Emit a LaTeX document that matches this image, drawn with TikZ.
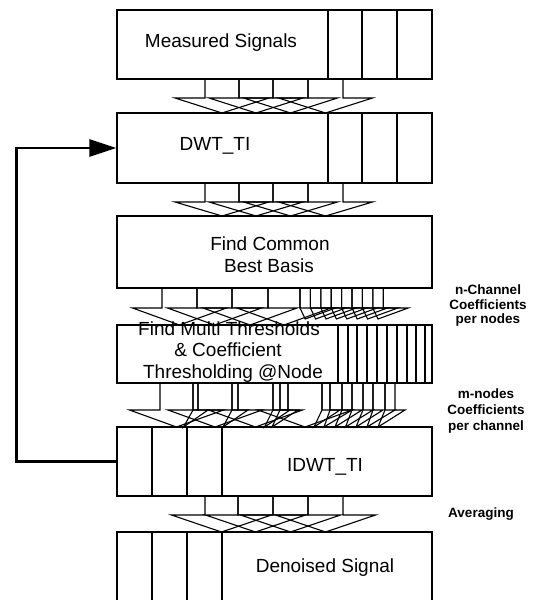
\documentclass[tikz,border=0pt]{standalone}
\usepackage{fontspec}
\setmainfont{Liberation Sans}
\usetikzlibrary{arrows.meta}
\tikzset{
 box/.style={draw, line width=1.2pt, inner sep=0pt, minimum width=315pt},
 arr/.style={line width=1.1pt, line join=miter},
 div/.style={line width=1.1pt},
 txt/.style={inner sep=0pt, anchor=base, font=\fontsize{19}{21.5}\selectfont},
 side/.style={inner sep=0pt, anchor=base, font=\bfseries\fontsize{13.5}{13.5}\selectfont},
 fb/.style={line width=2.6pt, -{Triangle[length=27pt,width=17pt]}},
}
% block arrow: xl, xr, ytop, ybase, ytip, half width of head
\newcommand{\blk}[6]{\draw[arr] (#1,#3) -- (#1,#4) -- ({(#1+#2)/2-#6},#4) -- ({(#1+#2)/2},#5) -- ({(#1+#2)/2+#6},#4) -- (#2,#4) -- (#2,#3);}
% narrow skewed arrow: xl, xr, ytop, ybase, ytip, tip shift, right wing
\newcommand{\nrw}[7]{\draw[arr] (#1,#3) -- (#1,#4) -- ({(#1+#2)/2-#6},#5) -- ({#2+#7},#4) -- (#2,#4) -- (#2,#3);}
\begin{document}
\begin{tikzpicture}[x=1pt,y=-1pt]
\useasboundingbox (0,0) rectangle (534,600);
\clip (0,0) rectangle (534,600);

% boxes
\node[box, minimum height=69pt] (b1) at (274.5,44.5) {};
\node[box, minimum height=70pt] (b2) at (274.5,148) {};
\node[box, minimum height=72pt] (b3) at (274.5,252) {};
\node[box, minimum height=58pt] (b4) at (274.5,354) {};
\node[box, minimum height=69pt] (b5) at (274.5,461.5) {};
\node[box, minimum height=90pt] (b6) at (274.5,577) {};

% dividers
\foreach \x in {328,362,397} {
  \draw[div] (\x,10) -- (\x,79);
  \draw[div] (\x,113) -- (\x,183);
}
\foreach \x in {338,348,357,367,377,387,397,407,416,425} {
  \draw[div] (\x,325) -- (\x,383);
}
\foreach \x in {152,187,222} {
  \draw[div] (\x,427) -- (\x,496);
  \draw[div] (\x,532) -- (\x,600);
}

% bundle 1 and 2
\foreach \a/\b in {205/239,239/273,273/308,308/343} {
  \blk{\a}{\b}{79}{98}{113}{47}
  \blk{\a}{\b}{183}{202}{216}{47}
}
% bundle 3
\foreach \a/\b in {162/197,197/232,232/268,268/300} {
  \blk{\a}{\b}{288}{308}{325}{47}
}
\foreach \a/\b in {300/310.4,310.4/320.8,320.8/331.2,331.2/341.6,341.6/352,352/362.4,362.4/372.8,372.8/383.2} {
  \nrw{\a}{\b}{288}{308}{319}{0}{25}
}
% bundle 4
\foreach \a/\b in {160/193,198/232,238/273,288/322} {
  \blk{\a}{\b}{383}{410}{427}{47}
}
\foreach \a/\b in {193/198,232/238,273/280,280/288,322/330,330/342,342/352,352/363,363/373,373/385,385/395} {
  \nrw{\a}{\b}{383}{410}{427}{12}{10}
}
% bundle 5
\foreach \a/\b in {205/238,238/273,273/308,308/343} {
  \blk{\a}{\b}{496}{515}{532}{50}
}

% feedback
\draw[fb] (b5.west) -- ++(-100,0) |- (b2.west);

% texts
\node[txt] (t1) at (221,47) {Measured Signals};
\node[txt] (t2) at (215,150) {DWT\_TI};
\node[txt] (t3a) at (270,250.5) {Find Common};
\node[txt] (t3b) at (269,272) {Best Basis};
\node[txt] (t4a) at (229,335) {Find Multi Thresholds};
\node[txt] (t4b) at (228,356.5) {\& Coefficient};
\node[txt] (t4c) at (233,378) {Thresholding @Node};
\node[txt] (t5) at (325,471) {IDWT\_TI};
\node[txt] (t6) at (325,572) {Denoised Signal};

% side labels
\node[side] (n1) at (488,294) {n-Channel};
\node[side] (n2) at (488,309) {Coefficients};
\node[side] (n3) at (488,323.5) {per nodes};
\node[side] (m1) at (486,398) {m-nodes};
\node[side] (m2) at (486,414.5) {Coefficients};
\node[side] (m3) at (486,430.5) {per channel};
\node[side] (av) at (481,517) {Averaging};
\end{tikzpicture}
\end{document}
